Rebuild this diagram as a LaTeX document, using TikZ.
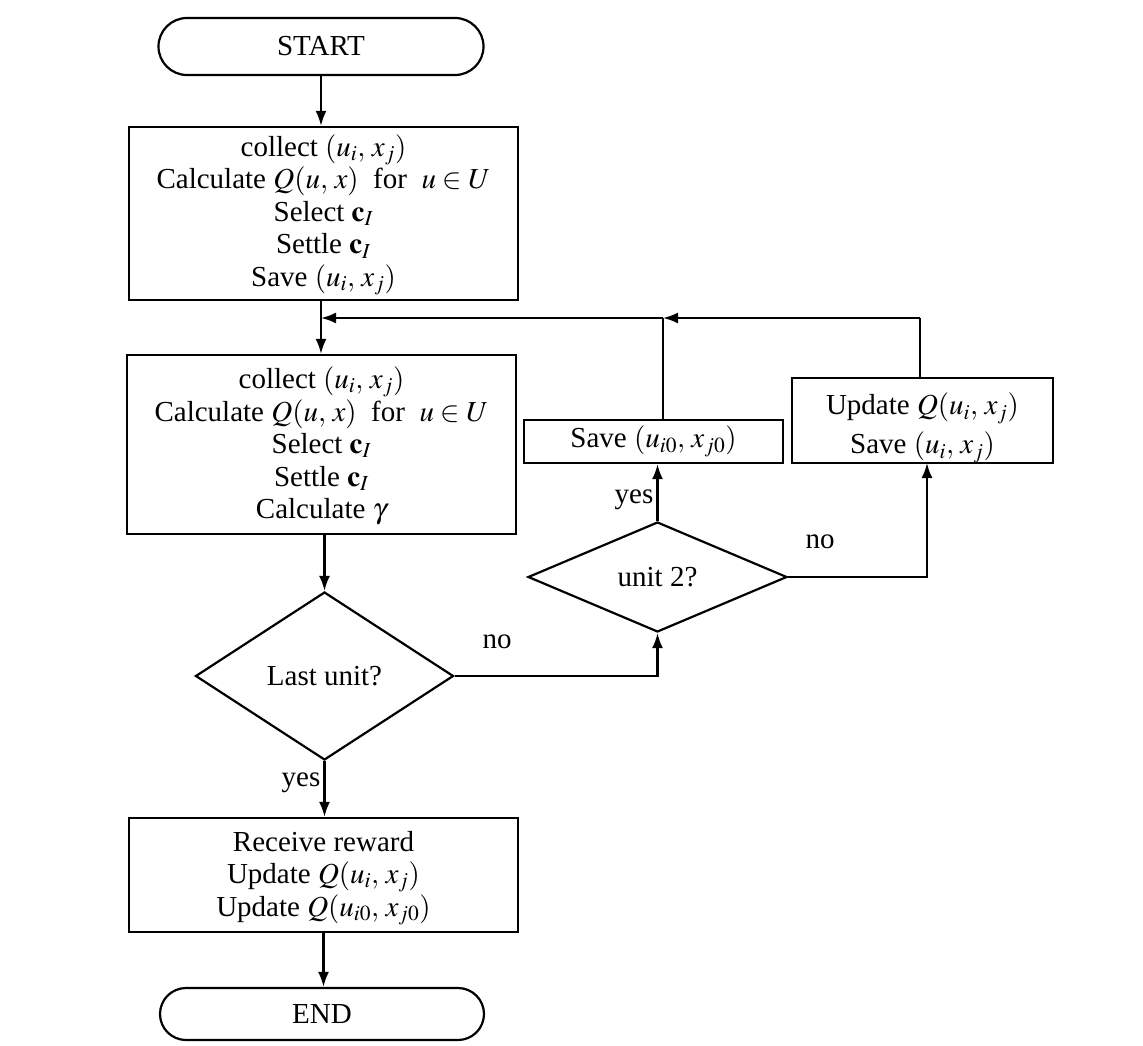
\documentclass[tikz,border=0pt]{standalone}
\usepackage{amsmath}
\usepackage{mathptmx}
\usepackage{fontspec}
\setmainfont{Liberation Serif}
\usetikzlibrary{shapes.geometric,shapes.misc,arrows.meta}
\newcommand{\calcline}{Calculate $Q(u,\,\boldsymbol{x})$\hskip0.5em for\hskip0.5em $u\in U$}
\begin{document}
\begin{tikzpicture}[x=1pt,y=-1pt,line width=2.2pt,
  font=\fontsize{29}{32.5}\selectfont,
  box/.style={draw,rectangle,align=center,inner sep=0pt},
  term/.style={draw,rounded rectangle,inner sep=0pt},
  dec/.style={draw,diamond,inner sep=0pt,aspect=1.6},
  arr/.style={-{Latex[length=15pt,width=11pt]}},
  lbl/.style={inner sep=0pt,align=center}]
\useasboundingbox (0,0) rectangle (1143,1046);

\node[term,minimum width=325pt,minimum height=57pt] (start) at (321,46.5) {START};
\node[box,minimum width=389pt,minimum height=173pt] (box1) at (323.5,213.5) {};
\node[lbl] (box1txt) at (323.5,215)
  {collect $(u_i,\,x_j)$\\ \calcline\\ Select $\mathbf{c}_I$\\ Settle $\mathbf{c}_I$\\ Save $(u_i,\,x_j)$};
\node[box,minimum width=389pt,minimum height=179pt] (box2) at (321.5,444.5) {};
\node[lbl] (box2txt) at (321.5,446)
  {collect $(u_i,\,x_j)$\\ \calcline\\ Select $\mathbf{c}_I$\\ Settle $\mathbf{c}_I$\\ Calculate $\gamma$};
\node[dec,minimum width=258pt,minimum height=168pt] (d1) at (324.5,676) {Last unit?};
\node[dec,minimum width=259pt,minimum height=110pt] (d2) at (657.5,577) {unit 2?};
\node[box,minimum width=259pt,minimum height=43pt] (save) at (653.5,441.5) {Save $(u_{i0},\,x_{j0})$};
\node[box,minimum width=261pt,minimum height=85pt] (upd) at (922.5,420.5) {};
\node[lbl,font=\fontsize{29}{39}\selectfont] (updtxt) at (922.5,428) {Update $Q(u_i,\,x_j)$\\ Save $(u_i,\,x_j)$};
\node[box,minimum width=389pt,minimum height=114pt] (box3) at (323.5,875) {};
\node[lbl] (box3txt) at (323.5,878)
  {Receive reward\\ Update $Q(u_i,\,x_j)$\\ Update $Q(u_{i0},\,x_{j0})$};
\node[term,minimum width=324pt,minimum height=52pt] (end) at (322,1014) {END};

\coordinate (j) at (321,318);
\coordinate (k) at (663,318);
\coordinate (ut) at (920,318);
\coordinate (ub) at (927,463);

\draw[arr] (start.south) -- (start.south |- box1.north);
\draw[arr] (j |- box1.south) -- (j |- box2.north);
\draw (upd.north -| ut) -- (ut);
\draw[arr] (ut) -- (k);
\draw (k) -- (k |- save.north);
\draw[arr] (k) -- (j);
\draw[arr] (d1.north |- box2.south) -- (d1.north);
\draw[arr] (d1.east) -| (d2.south);
\draw[arr] (d2.north) -- (d2.north |- save.south);
\draw[arr] (d2.east) -| (ub);
\draw[arr] (d1.south) -- (d1.south |- box3.north);
\draw[arr] (box3.south) -- (box3.south |- end.north);

\node[lbl] (no1) at (497,642) {no};
\node[lbl] (yes2) at (634,500) {yes};
\node[lbl] (no2) at (820,542) {no};
\node[lbl] (yes1) at (301,783) {yes};
\end{tikzpicture}
\end{document}
